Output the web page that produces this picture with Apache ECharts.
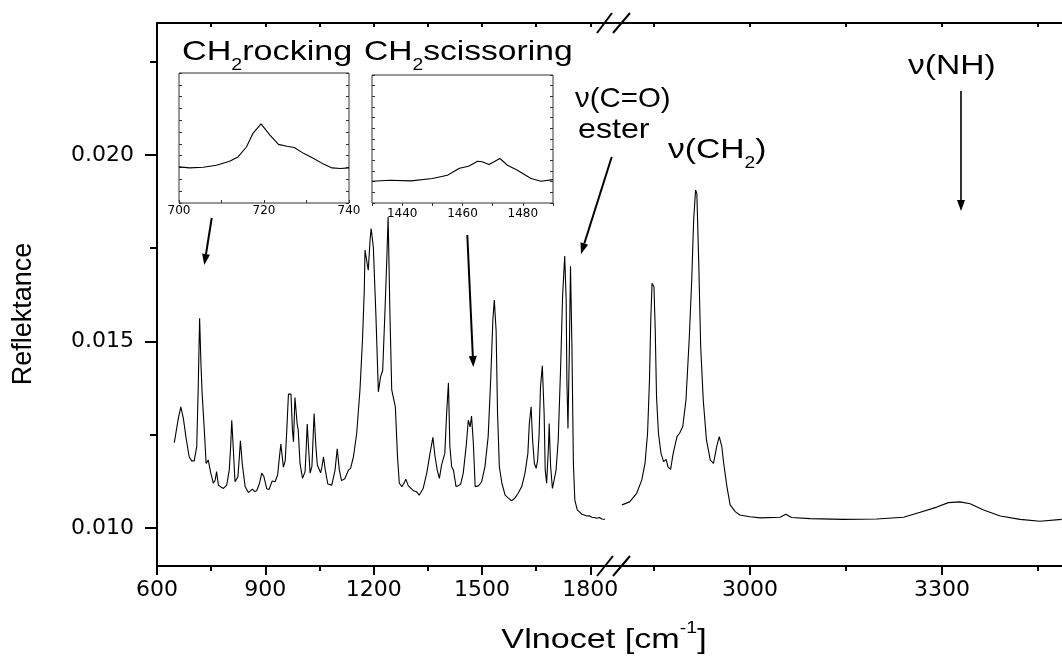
<!DOCTYPE html>
<html>
<head>
<meta charset="UTF-8" />
<title>Reflektance</title>
<style>
  * { margin: 0; padding: 0; }
  #main { width: 1062px; height: 657px; background: #fff; }
</style>
</head>
<body>
<div id="main"></div>
<script src="https://cdn.jsdelivr.net/npm/echarts@6/dist/echarts.min.js"></script>
<script>
  // spektrum 600-1850 cm-1  [vlnocet, reflektance]
  const specLow = [
    [648, 0.01229], [659, 0.01294], [666, 0.01325], [673, 0.01294], [680, 0.01245], [689, 0.01191],
    [696, 0.0118], [703, 0.0118], [710, 0.01218], [714, 0.0137], [718, 0.01562], [722, 0.01432],
    [725, 0.01361], [731, 0.01263], [736, 0.01173], [742, 0.01182], [749, 0.01147], [756, 0.0112],
    [761, 0.01128], [765, 0.01151], [770, 0.01115], [777, 0.0111], [784, 0.01106], [793, 0.01115],
    [800, 0.01155], [804, 0.0122], [807, 0.01289], [811, 0.01218], [816, 0.01124], [819, 0.01122],
    [824, 0.01137], [828, 0.0119], [831, 0.01234], [836, 0.01173], [844, 0.01111], [853, 0.01095],
    [858, 0.01099], [864, 0.01104], [870, 0.01098], [876, 0.011], [884, 0.0112], [890, 0.01147],
    [896, 0.01138], [904, 0.01105], [910, 0.01103], [919, 0.01126], [927, 0.01124], [934, 0.01142],
    [939, 0.0119], [943, 0.01225], [947, 0.0119], [950, 0.01163], [955, 0.0118], [959, 0.01254],
    [964, 0.01359], [966, 0.01362], [969, 0.01355], [971, 0.01359], [975, 0.01263], [978, 0.01231],
    [982, 0.0135], [988, 0.0128], [991, 0.01263], [996, 0.01173], [1003, 0.01133], [1010, 0.01151],
    [1013, 0.0121], [1016, 0.01279], [1020, 0.0121], [1024, 0.01147], [1029, 0.01165], [1035, 0.01307],
    [1040, 0.01218], [1044, 0.01169], [1048, 0.01172], [1053, 0.01148], [1057, 0.01165], [1061, 0.01191],
    [1066, 0.01155], [1073, 0.01118], [1084, 0.01115], [1093, 0.01155], [1099, 0.01212], [1105, 0.01155],
    [1111, 0.01127], [1120, 0.01132], [1130, 0.01155], [1136, 0.0116], [1144, 0.01191], [1153, 0.01254],
    [1162, 0.0137], [1169, 0.01504], [1174, 0.01638], [1176, 0.01745], [1181, 0.0174], [1185, 0.01691],
    [1190, 0.01772], [1193, 0.01803], [1199, 0.01754], [1206, 0.01575], [1213, 0.01365], [1219, 0.01405],
    [1225, 0.01423], [1231, 0.01575], [1236, 0.0171], [1240, 0.01834], [1245, 0.01575], [1250, 0.0137],
    [1256, 0.01343], [1260, 0.01325], [1262, 0.0132], [1266, 0.01191], [1271, 0.0112], [1278, 0.01111],
    [1284, 0.0112], [1289, 0.01131], [1296, 0.01113], [1310, 0.011], [1319, 0.01097], [1326, 0.01088],
    [1331, 0.0109], [1337, 0.01106], [1347, 0.01147], [1356, 0.012], [1364, 0.01243], [1370, 0.01191],
    [1376, 0.01155], [1382, 0.01133], [1388, 0.01169], [1393, 0.0117], [1397, 0.012], [1402, 0.01307],
    [1407, 0.01389], [1411, 0.01218], [1416, 0.01164], [1421, 0.01155], [1428, 0.01111], [1434, 0.01113],
    [1441, 0.01118], [1448, 0.01147], [1456, 0.01218], [1462, 0.01289], [1467, 0.01271], [1471, 0.013],
    [1476, 0.01227], [1481, 0.01111], [1490, 0.01113], [1499, 0.01124], [1508, 0.01164], [1517, 0.01245],
    [1524, 0.01397], [1530, 0.01557], [1534, 0.01611], [1539, 0.0153], [1543, 0.01307], [1548, 0.01164],
    [1555, 0.0112], [1564, 0.01088], [1573, 0.0108], [1582, 0.01073], [1591, 0.0108], [1600, 0.01093],
    [1610, 0.01111], [1619, 0.01147], [1627, 0.012], [1631, 0.0128], [1636, 0.01325], [1640, 0.01236],
    [1645, 0.01173], [1650, 0.0116], [1654, 0.01182], [1658, 0.0125], [1662, 0.01379], [1667, 0.01435],
    [1672, 0.01307], [1675, 0.01155], [1679, 0.0112], [1684, 0.01218], [1686, 0.0128], [1690, 0.01164],
    [1695, 0.01106], [1700, 0.0113], [1705, 0.01155], [1711, 0.01236], [1718, 0.01441], [1723, 0.0162],
    [1729, 0.01729], [1733, 0.01611], [1735, 0.01397], [1738, 0.01267], [1742, 0.01486], [1745, 0.01702],
    [1749, 0.01486], [1753, 0.01173], [1757, 0.01075], [1764, 0.01048], [1770, 0.01043], [1776, 0.01037],
    [1783, 0.01035], [1790, 0.01032], [1797, 0.01033], [1804, 0.01029], [1811, 0.01028], [1818, 0.01026],
    [1825, 0.01028], [1832, 0.01024], [1840, 0.01023]
  ]

  // spektrum 2800-3490 cm-1
  const specHigh = [
    [2800, 0.01062], [2812, 0.0107], [2823, 0.01093], [2831, 0.01129], [2836, 0.01173], [2840, 0.01254],
    [2843, 0.01397], [2845, 0.01557], [2847, 0.01656], [2850, 0.01647], [2852, 0.0153], [2854, 0.01352],
    [2857, 0.01254], [2861, 0.012], [2865, 0.01178], [2869, 0.01184], [2872, 0.01164], [2876, 0.01157],
    [2880, 0.012], [2886, 0.01245], [2890, 0.01254], [2895, 0.01272], [2900, 0.01343], [2905, 0.01504],
    [2909, 0.01665], [2912, 0.01825], [2915, 0.01906], [2917, 0.01897], [2920, 0.0171], [2923, 0.01486],
    [2927, 0.01343], [2932, 0.01236], [2938, 0.01182], [2943, 0.01173], [2948, 0.01218], [2952, 0.01245],
    [2956, 0.01218], [2959, 0.01173], [2964, 0.01111], [2969, 0.01062], [2977, 0.01044], [2984, 0.01035],
    [3000, 0.0103], [3016, 0.01027], [3047, 0.01029], [3056, 0.01037], [3065, 0.01028], [3094, 0.01025],
    [3146, 0.01023], [3198, 0.01024], [3240, 0.01029], [3266, 0.01042], [3292, 0.01056], [3310, 0.01068],
    [3328, 0.0107], [3344, 0.01065], [3365, 0.01048], [3391, 0.01032], [3422, 0.01023], [3453, 0.01018],
    [3487, 0.01023]
  ]

  // vlozene grafy (relativni jednotky)
  const rockWn = [700, 702.5, 705.7, 708.8, 711.9, 713.9, 715.9, 717.4, 719.3, 721.4, 723.4, 725.4, 727.1, 729.3, 731.7, 734, 736, 738, 740]
  const rockVal = [3.06, 2.97, 3.03, 3.2, 3.54, 3.9, 4.76, 5.9, 6.69, 5.75, 4.96, 4.8, 4.7, 4.2, 3.77, 3.29, 2.97, 2.92, 2.97]
  const scisWn = [1430, 1436, 1443, 1450, 1455, 1459, 1462, 1465, 1466.5, 1468.8, 1472.4, 1474.9, 1478.2, 1482.7, 1486, 1490]
  const scisVal = [2.04, 2.13, 2.07, 2.29, 2.6, 3.26, 3.45, 3.92, 3.86, 3.6, 4.17, 3.54, 3.07, 2.29, 2.04, 2.19]

  // osy
  const lowTicks = [600, 900, 1200, 1500, 1800]
  const lowMinor = [750, 1050, 1350, 1650]
  const highTicks = [3000, 3300]
  const highMinor = [2850, 3150, 3450]
  const yTicks = [0.010, 0.015, 0.020]
  const yMinor = [0.0125, 0.0175, 0.0225]
  const rockLabels = [700, 720, 740]
  const scisLabels = [1440, 1460, 1480]

  const LOW = [600, 1862.7]
  const HIGH = [2786, 3487.5]
  const YR = [0.008981, 0.023539]
  const TICK_FONT = 'DejaVu Sans'
  const TXT_FONT = 'Liberation Sans'
  const black = { color: '#000', width: 2 }
  const plain = v => String(v)

  function zip(a, b) {
    return a.map((v, i) => [v, b[i]])
  }

  // pomocna osa jen s carkami
  function tickAxis(grid, range, pos, values, len, inside, line) {
    return {
      gridIndex: grid, type: 'value', min: range[0], max: range[1], position: pos,
      axisLine: { show: !!line, onZero: false, lineStyle: black },
      axisTick: { show: true, inside: inside, length: len, customValues: values, lineStyle: black },
      axisLabel: { show: false },
      splitLine: { show: false }
    }
  }

  function arrow(x1, y1, x2, y2, w) {
    const dx = x2 - x1, dy = y2 - y1, l = Math.hypot(dx, dy)
    const ux = dx / l, uy = dy / l, hl = 11, hw = 4
    const bx = x2 - ux * hl, by = y2 - uy * hl
    return [
      { type: 'line', shape: { x1: x1, y1: y1, x2: bx, y2: by }, style: { stroke: '#000', lineWidth: w } },
      { type: 'polygon', shape: { points: [[x2, y2], [bx - uy * hw, by + ux * hw], [bx + uy * hw, by - ux * hw]] }, style: { fill: '#000' } }
    ]
  }

  function label(text, x, y, sx, align) {
    return {
      type: 'text', x: x, y: y, scaleX: sx, z: 10,
      style: {
        text: text, fontFamily: TXT_FONT, fontSize: 28, fill: '#000',
        align: align || 'left', verticalAlign: 'middle',
        rich: {
          s: { fontFamily: TXT_FONT, fontSize: 16, fill: '#000', padding: [28, 0, 0, 0] },
          u: { fontFamily: TXT_FONT, fontSize: 16, fill: '#000', padding: [0, 0, 22, 0] }
        }
      }
    }
  }

  const myChart = echarts.init(document.getElementById('main'), null, { renderer: 'canvas' })

  const graphics = [
    // preruseni osy
    { type: 'line', shape: { x1: 597, y1: 576, x2: 613, y2: 556 }, style: { stroke: '#000', lineWidth: 2 } },
    { type: 'line', shape: { x1: 613, y1: 576, x2: 630, y2: 556 }, style: { stroke: '#000', lineWidth: 2 } },
    { type: 'line', shape: { x1: 597, y1: 33, x2: 612, y2: 13 }, style: { stroke: '#000', lineWidth: 2 } },
    { type: 'line', shape: { x1: 613, y1: 33, x2: 630, y2: 13 }, style: { stroke: '#000', lineWidth: 2 } },
    label('CH{s|2}rocking', 182, 52, 1.22),
    label('CH{s|2}scissoring', 364, 52, 1.2),
    label('ν(C=O)', 575, 99, 1.05),
    label('ester', 578, 130, 1.15),
    label('ν(CH{s|2})', 668, 150, 1.2),
    label('ν(NH)', 908, 66, 1.2),
    label('Vlnocet [cm{u|-1}]', 604, 640, 1.22, 'center')
  ].concat(
    arrow(211.7, 218, 204.3, 265, 2),
    arrow(467.3, 235, 473.3, 367, 2),
    arrow(611.7, 157, 581, 254, 2),
    arrow(961, 91, 961, 211, 1.6)
  )

  const option = {
    animation: false,
    backgroundColor: '#fff',
    grid: [
      { left: 157, top: 23, width: 456, height: 543 },
      { left: 613, top: 23, right: 0, height: 543 },
      { left: 179, top: 73, width: 170, height: 130, show: true, backgroundColor: '#fff', borderColor: '#333', borderWidth: 1 },
      { left: 372, top: 75, width: 181, height: 128, show: true, backgroundColor: '#fff', borderColor: '#333', borderWidth: 1 }
    ],
    xAxis: [
      {
        gridIndex: 0, type: 'value', min: LOW[0], max: LOW[1], position: 'bottom',
        axisLine: { show: true, onZero: false, lineStyle: black },
        axisTick: { show: true, length: 9, customValues: lowTicks, lineStyle: black },
        axisLabel: { customValues: lowTicks, margin: 13, fontFamily: TICK_FONT, fontSize: 22, color: '#000', formatter: plain },
        splitLine: { show: false }
      },
      tickAxis(0, LOW, 'bottom', lowMinor, 5, false, false),
      tickAxis(0, LOW, 'top', lowTicks.concat(lowMinor), 4, true, true),
      {
        gridIndex: 1, type: 'value', min: HIGH[0], max: HIGH[1], position: 'bottom',
        axisLine: { show: true, onZero: false, lineStyle: black },
        axisTick: { show: true, length: 9, customValues: highTicks, lineStyle: black },
        axisLabel: { customValues: highTicks, margin: 13, fontFamily: TICK_FONT, fontSize: 22, color: '#000', formatter: plain },
        splitLine: { show: false }
      },
      tickAxis(1, HIGH, 'bottom', highMinor, 5, false, false),
      tickAxis(1, HIGH, 'top', highTicks.concat(highMinor), 4, true, true),
      {
        gridIndex: 2, type: 'value', min: 700, max: 740, interval: 10,
        axisLine: { show: false, onZero: false },
        axisTick: { inside: true, length: 3, lineStyle: { color: '#333' } },
        axisLabel: { customValues: rockLabels, margin: 2, fontFamily: TICK_FONT, fontSize: 12, color: '#000', formatter: plain },
        splitLine: { show: false }
      },
      {
        gridIndex: 3, type: 'value', min: 1430, max: 1490, interval: 10,
        axisLine: { show: false, onZero: false },
        axisTick: { inside: false, length: 3, lineStyle: { color: '#333' } },
        axisLabel: { customValues: scisLabels, margin: 5, fontFamily: TICK_FONT, fontSize: 12, color: '#000', formatter: plain },
        splitLine: { show: false }
      }
    ],
    yAxis: [
      {
        gridIndex: 0, type: 'value', min: YR[0], max: YR[1], position: 'left',
        axisLine: { show: true, onZero: false, lineStyle: black },
        axisTick: { show: true, length: 12, customValues: yTicks, lineStyle: black },
        axisLabel: {
          customValues: yTicks, margin: 23, fontFamily: TICK_FONT, fontSize: 22, color: '#000',
          formatter: v => v.toFixed(3)
        },
        splitLine: { show: false },
        name: 'Reflektance', nameLocation: 'middle', nameGap: 120,
        nameTextStyle: { fontFamily: TXT_FONT, fontSize: 27, color: '#000', padding: [0, 39, 0, 0] }
      },
      tickAxis(0, YR, 'left', yMinor, 7, false, false),
      { gridIndex: 1, type: 'value', min: YR[0], max: YR[1], show: false },
      {
        gridIndex: 2, type: 'value', min: 0, max: 11, interval: 1, position: 'left',
        axisLine: { show: false, onZero: false }, axisTick: { inside: true, length: 3, lineStyle: { color: '#333' } },
        axisLabel: { show: false }, splitLine: { show: false }
      },
      {
        gridIndex: 2, type: 'value', min: 0, max: 11, interval: 1, position: 'right',
        axisLine: { show: false, onZero: false }, axisTick: { inside: true, length: 3, lineStyle: { color: '#333' } },
        axisLabel: { show: false }, splitLine: { show: false }
      },
      {
        gridIndex: 3, type: 'value', min: 0, max: 12, interval: 1, position: 'left',
        axisLine: { show: false, onZero: false }, axisTick: { inside: true, length: 3, lineStyle: { color: '#333' } },
        axisLabel: { show: false }, splitLine: { show: false }
      },
      {
        gridIndex: 3, type: 'value', min: 0, max: 12, interval: 1, position: 'right',
        axisLine: { show: false, onZero: false }, axisTick: { inside: true, length: 3, lineStyle: { color: '#333' } },
        axisLabel: { show: false }, splitLine: { show: false }
      }
    ],
    series: [
      { type: 'line', xAxisIndex: 0, yAxisIndex: 0, data: specLow, symbol: 'none', lineStyle: { color: '#000', width: 1.1 } },
      { type: 'line', xAxisIndex: 3, yAxisIndex: 2, data: specHigh, symbol: 'none', lineStyle: { color: '#000', width: 1.1 } },
      { type: 'line', xAxisIndex: 6, yAxisIndex: 3, data: zip(rockWn, rockVal), symbol: 'none', lineStyle: { color: '#000', width: 1.1 } },
      { type: 'line', xAxisIndex: 7, yAxisIndex: 5, data: zip(scisWn, scisVal), symbol: 'none', lineStyle: { color: '#000', width: 1.1 } }
    ],
    graphic: graphics
  }

  myChart.setOption(option)
</script>
</body>
</html>
